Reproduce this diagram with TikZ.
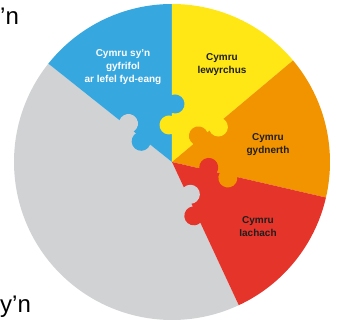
\documentclass[tikz,border=0pt]{standalone}
\usepackage{fontspec}
\setmainfont{Liberation Sans}
\definecolor{wellblue}{RGB}{54,167,223}
\definecolor{wellyellow}{RGB}{255,231,22}
\definecolor{wellorange}{RGB}{242,148,0}
\definecolor{wellred}{RGB}{229,52,42}
\definecolor{wellgrey}{RGB}{209,210,212}

\begin{document}
\begin{tikzpicture}[x=1pt, y=1pt,
  goal/.style={font=\bfseries\fontsize{10}{13}\selectfont, align=center, inner sep=0pt, text=black!88},
  fragment/.style={font=\fontsize{24}{28}\selectfont, inner sep=0pt, anchor=base west}]
  \useasboundingbox (-172,-164) rectangle (168,162);
  % the five pieces of the wheel
  \foreach \a/\b/\c in {141.5/295/wellgrey, 90/141.5/wellblue, 40/90/wellyellow, -13/40/wellorange, -65/-13/wellred}
    \fill[\c] (0,0) -- (\a:158) arc[start angle=\a, end angle=\b, radius=158] -- cycle;
  % puzzle knobs on each seam
  \foreach \ang/\ca/\cb in {90/wellyellow/wellblue, 40/wellorange/wellyellow, -13/wellred/wellorange, -65/wellgrey/wellred, 141.5/wellblue/wellgrey} {
    \begin{scope}[rotate=\ang]
      \fill[\ca] (28,-0.8) -- (28,0) arc[start angle=198.4, end angle=-18.4, radius=9.5] -- ++(0,-0.8) -- cycle;
      \begin{scope}[yscale=-1]
        \fill[\cb] (49,-0.8) -- (49,0) arc[start angle=198.4, end angle=-18.4, radius=9.5] -- ++(0,-0.8) -- cycle;
      \end{scope}
    \end{scope}
  }
  \node[goal, text=white] (global) at (-49,95) {Cymru sy’n\\gyfrifol\\ar lefel fyd-eang};
  \node[goal] (prosperous) at (50,97) {Cymru\\lewyrchus};
  \node[goal] (resilient) at (96,17) {Cymru\\gydnerth};
  \node[goal] (healthier) at (86,-65) {Cymru\\Iachach};
  \node[fragment] (topfrag) at (-172,137) {’n};
  \node[fragment] (bottomfrag) at (-172,-150) {y’n};
\end{tikzpicture}
\end{document}
